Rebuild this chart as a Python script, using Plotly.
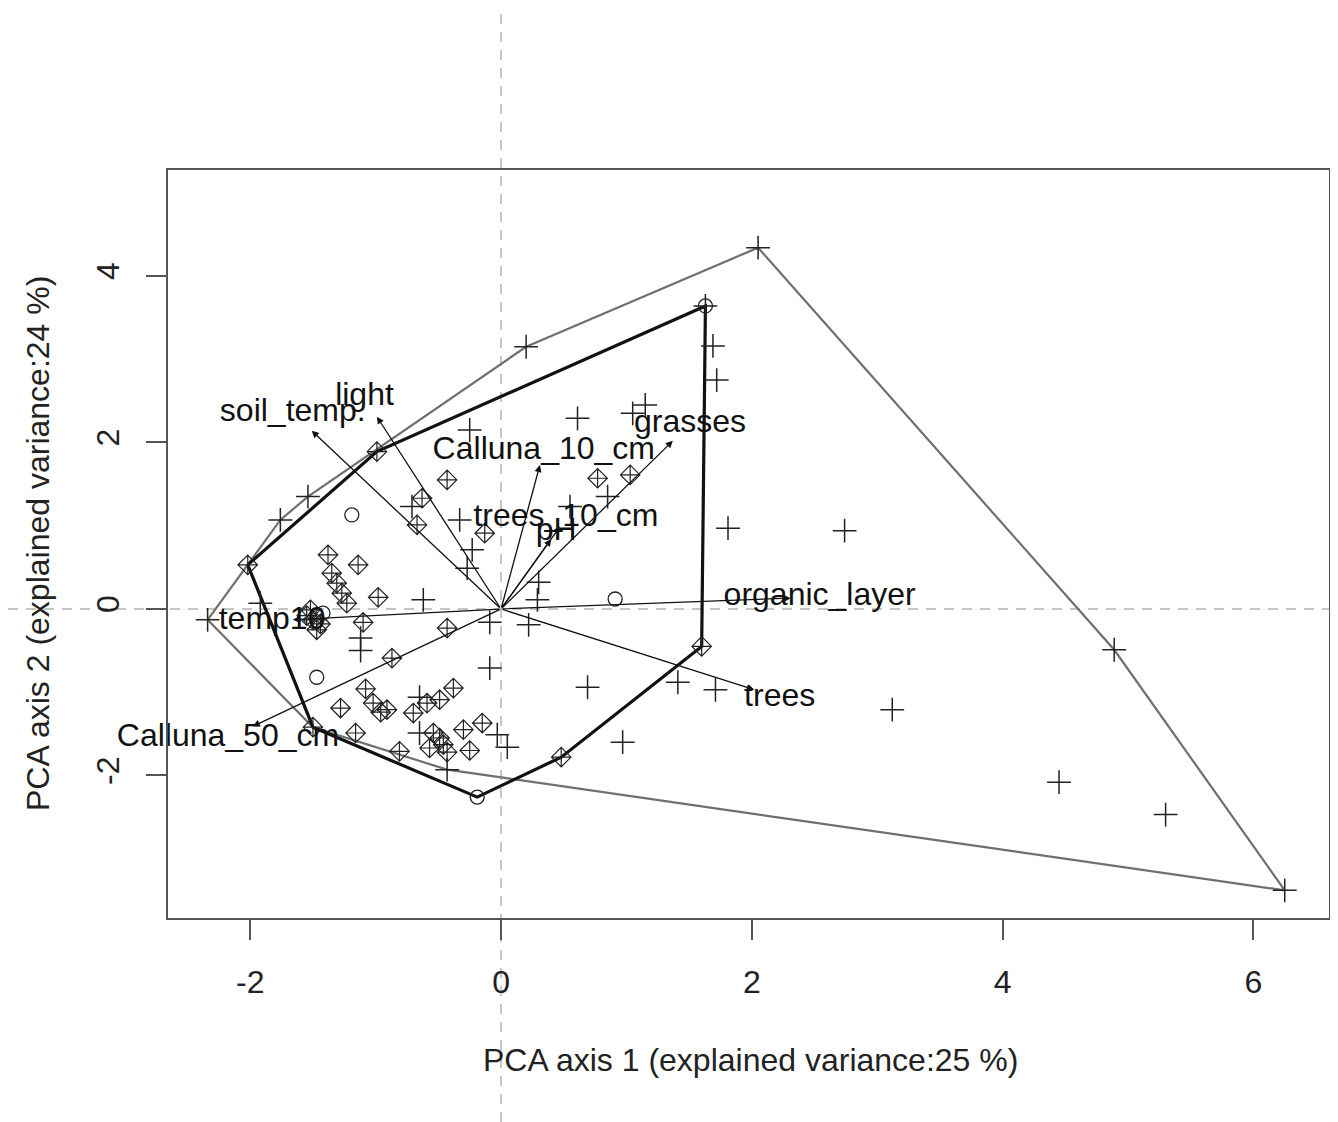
import plotly.graph_objects as go

# ---------------- data ----------------
plus_x = [0.20, 2.05, 1.69, 1.72, 1.15, 1.05, 0.61, -0.25, 1.81, 2.74, 0.85, 0.55, -0.33, -0.23, -0.27,
          -0.71, -1.76, -1.54, -1.92, -2.34, -0.62, -1.12, -1.12, 0.29, 0.30, 0.22, -0.09, -0.09, 0.69,
          1.41, 1.71, 0.97, 0.05, -0.03, -0.65, -0.65, -0.43, 3.12, 4.89, 4.45, 5.30, 6.25, 1.63]
plus_y = [3.15, 4.34, 3.16, 2.75, 2.45, 2.35, 2.29, 2.15, 0.97, 0.94, 1.35, 1.23, 1.07, 0.71, 0.49,
          1.23, 1.07, 1.35, 0.07, -0.13, 0.11, -0.35, -0.50, 0.11, 0.32, -0.19, -0.16, -0.71, -0.94,
          -0.88, -0.97, -1.60, -1.66, -1.51, -1.06, -1.49, -1.93, -1.21, -0.49, -2.08, -2.47, -3.38, 3.64]

diam_x = [-2.02, -0.99, -0.43, -0.63, -0.67, -0.13, 0.77, 1.03, -1.38, -1.14, -1.35, -1.31, -1.27, -1.23,
          -0.98, -1.10, -1.52, -1.50, -1.47, -1.55, -1.44, -0.43, -0.87, -1.08, -1.28, -1.02, -0.96,
          -0.91, -1.16, -1.50, -0.81, -0.70, -0.59, -0.49, -0.38, -0.54, -0.57, -0.46, -0.43, -0.30,
          -0.25, -0.15, -0.49, 0.48, 1.60]
diam_y = [0.53, 1.89, 1.55, 1.33, 1.01, 0.91, 1.57, 1.61, 0.65, 0.53, 0.43, 0.31, 0.19, 0.07,
          0.14, -0.16, -0.01, -0.13, -0.25, -0.08, -0.18, -0.23, -0.59, -0.96, -1.19, -1.13, -1.24,
          -1.21, -1.49, -1.42, -1.71, -1.25, -1.13, -1.09, -0.95, -1.49, -1.67, -1.63, -1.72, -1.45,
          -1.70, -1.37, -1.55, -1.78, -0.45]

circ_x = [-1.19, -1.47, 0.91, -0.19, 1.63, -1.42]
circ_y = [1.13, -0.82, 0.12, -2.26, 3.64, -0.05]

var_names = ["soil_temp.", "light", "Calluna_10_cm", "grasses", "trees_10_cm", "pH",
             "organic_layer", "trees", "Calluna_50_cm", "temp10"]
var_x = [-1.51, -0.99, 0.31, 1.37, 0.47, 0.40, 2.31, 2.02, -1.98, -1.66]
var_y = [2.14, 2.31, 1.73, 2.02, 0.99, 0.84, 0.13, -0.97, -1.41, -0.13]
label_scale = 1.1

x_ticks = [-2, 0, 2, 4, 6]
x_tick_text = ["-2", "0", "2", "4", "6"]
y_ticks = [-2, 0, 2, 4]
y_tick_text = ["-2", "0", "2", "4"]
x_title = "PCA axis 1 (explained variance:25 %)"
y_title = "PCA axis 2 (explained variance:24 %)"

# ---------------- layout constants ----------------
# the page body keeps an 8px default margin, so the figure is drawn 8px in from the corner
OFF = 8
PAGE_W, PAGE_H = 1338, 1122
W, H = PAGE_W - OFF, PAGE_H - OFF
# plot area on the page: left 168, right 1329, top 170, bottom 918
ML, MR, MT, MB = 168 - OFF, PAGE_W - 1329 - OFF + 8, 170 - OFF, PAGE_H - 918 - OFF
MR = W - (1329 - OFF)
MB = H - (918 - OFF)
x_range = [-2.656, 6.603]
y_range = [-3.712, 5.273]
PW, PH = W - ML - MR, H - MT - MB
FONT = "Liberation Sans, Arial, Helvetica, sans-serif"
FS = 32


def page_to_paper_x(px):
    return (px - OFF - ML) / PW


def page_to_paper_y(py):
    return ((H - MB) - (py - OFF)) / PH


def convex_hull(xs, ys):
    pts = sorted(set(zip(xs, ys)))

    def cross(o, a, b):
        return (a[0] - o[0]) * (b[1] - o[1]) - (a[1] - o[1]) * (b[0] - o[0])

    lower = []
    for p in pts:
        while len(lower) >= 2 and cross(lower[-2], lower[-1], p) <= 0:
            lower.pop()
        lower.append(p)
    upper = []
    for p in reversed(pts):
        while len(upper) >= 2 and cross(upper[-2], upper[-1], p) <= 0:
            upper.pop()
        upper.append(p)
    h = lower[:-1] + upper[:-1]
    h.append(h[0])
    return [p[0] for p in h], [p[1] for p in h]


fig = go.Figure()

# hulls
gx, gy = convex_hull(plus_x + diam_x, plus_y + diam_y)
fig.add_trace(go.Scatter(x=gx, y=gy, mode="lines", line=dict(color="#6f6f6f", width=2.2),
                         hoverinfo="skip", showlegend=False))
bx, by = convex_hull(diam_x + circ_x, diam_y + circ_y)
fig.add_trace(go.Scatter(x=bx, y=by, mode="lines", line=dict(color="#111111", width=3.2),
                         hoverinfo="skip", showlegend=False))

# points
fig.add_trace(go.Scatter(x=plus_x, y=plus_y, mode="markers",
                         marker=dict(symbol="cross-thin-open", size=17, color="#222222",
                                     line=dict(width=1.5, color="#222222")),
                         showlegend=False))
fig.add_trace(go.Scatter(x=diam_x, y=diam_y, mode="markers",
                         marker=dict(symbol="diamond-cross-open", size=15, color="#222222",
                                     line=dict(width=1.2, color="#222222")),
                         showlegend=False))
fig.add_trace(go.Scatter(x=circ_x, y=circ_y, mode="markers",
                         marker=dict(symbol="circle-open", size=14, color="#222222",
                                     line=dict(width=1.3, color="#222222")),
                         showlegend=False))

# variable labels
fig.add_trace(go.Scatter(x=[v * label_scale for v in var_x], y=[v * label_scale for v in var_y],
                         mode="text", text=var_names, textposition="middle center",
                         textfont=dict(family=FONT, size=FS, color="#111111"),
                         cliponaxis=False, hoverinfo="skip", showlegend=False))

annotations = []
for vx, vy in zip(var_x, var_y):
    annotations.append(dict(x=vx, y=vy, ax=0, ay=0, xref="x", yref="y", axref="x", ayref="y",
                            text="", showarrow=True, arrowhead=2, arrowsize=1.1,
                            arrowwidth=1.3, arrowcolor="#111111", standoff=0, startstandoff=0))

# axis titles
annotations.append(dict(x=page_to_paper_x(750), y=page_to_paper_y(1060), xref="paper", yref="paper",
                        text=x_title, showarrow=False, xanchor="center", yanchor="middle",
                        font=dict(family=FONT, size=FS, color="#222222")))
annotations.append(dict(x=page_to_paper_x(38), y=0.5, xref="paper", yref="paper",
                        text=y_title, showarrow=False, xanchor="center", yanchor="middle",
                        textangle=-90, font=dict(family=FONT, size=FS, color="#222222")))

# dashed reference lines through the origin, spanning the whole figure
x0p = (0 - x_range[0]) / (x_range[1] - x_range[0])
y0p = (0 - y_range[0]) / (y_range[1] - y_range[0])
shapes = [
    dict(type="line", xref="paper", yref="paper", x0=x0p, x1=x0p, y0=-MB / PH, y1=1 + MT / PH,
         line=dict(color="#b3b3b3", width=1.5, dash="10px,8px"), layer="below"),
    dict(type="line", xref="paper", yref="paper", x0=-ML / PW, x1=1 + MR / PW, y0=y0p, y1=y0p,
         line=dict(color="#b3b3b3", width=1.5, dash="10px,8px"), layer="below"),
]

fig.update_layout(
    width=W, height=H,
    margin=dict(l=ML, r=MR, t=MT, b=MB, pad=0, autoexpand=False),
    paper_bgcolor="white", plot_bgcolor="white",
    showlegend=False,
    annotations=annotations,
    shapes=shapes,
    font=dict(family=FONT, size=FS, color="#222222"),
)
fig.update_xaxes(range=x_range, tickvals=x_ticks, ticktext=x_tick_text, showgrid=False, zeroline=False,
                 showline=True, mirror=True, linecolor="#555555", linewidth=2, automargin=False,
                 ticks="outside", ticklen=20, tickwidth=1.5, tickcolor="#555555",
                 tickfont=dict(family=FONT, size=FS, color="#222222"), ticklabelstandoff=15)
fig.update_yaxes(range=y_range, tickvals=y_ticks, ticktext=y_tick_text, showgrid=False, zeroline=False,
                 showline=True, mirror=True, linecolor="#555555", linewidth=2, automargin=False,
                 ticks="outside", ticklen=20, tickwidth=1.5, tickcolor="#555555", tickangle=-90,
                 tickfont=dict(family=FONT, size=FS, color="#222222"), ticklabelstandoff=14)

fig.write_html("out.html")
